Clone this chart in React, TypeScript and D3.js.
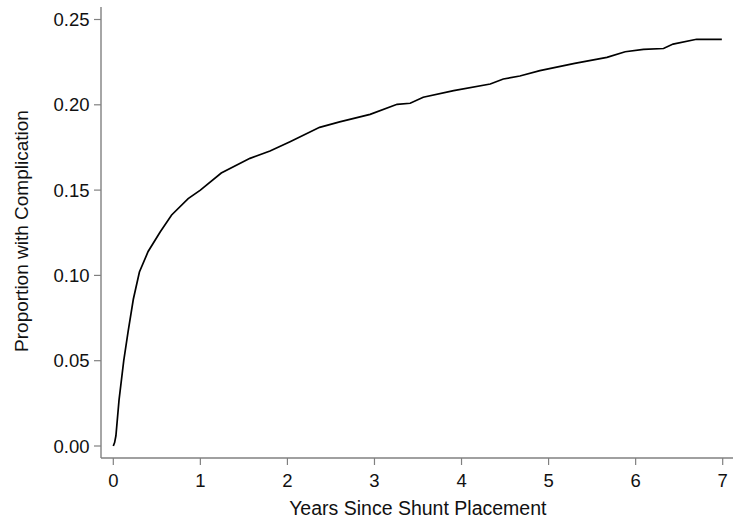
import { useEffect, useRef } from 'react'
import * as d3 from 'd3'

// Cumulative proportion with complication
const years = [0, 0.015, 0.03, 0.066, 0.12, 0.17, 0.23, 0.3, 0.4, 0.54, 0.67, 0.86, 1.0, 1.24, 1.57, 1.8, 2.03, 2.37, 2.6, 2.95, 3.26, 3.41, 3.56, 3.91, 4.33, 4.48, 4.67, 4.9, 5.3, 5.67, 5.88, 6.09, 6.32, 6.43, 6.7, 6.99]
const proportion = [0, 0.002, 0.006, 0.027, 0.05, 0.067, 0.086, 0.102, 0.114, 0.1256, 0.1354, 0.145, 0.150, 0.160, 0.1686, 0.1729, 0.1784, 0.1868, 0.190, 0.1944, 0.2003, 0.2009, 0.2044, 0.2083, 0.2122, 0.2151, 0.2169, 0.220, 0.2243, 0.2278, 0.2311, 0.2325, 0.233, 0.2356, 0.2384, 0.2384]

const xTicks = [0, 1, 2, 3, 4, 5, 6, 7]
const yTicks = [0, 0.05, 0.1, 0.15, 0.2, 0.25]

export default function App() {
  const svgRef = useRef<SVGSVGElement>(null)

  useEffect(() => {
    const width = 734, height = 520
    const left = 101, right = 733, top = 7, bottom = 458
    const svg = d3.select(svgRef.current)
    svg.selectAll('*').remove()
    svg.attr('width', width).attr('height', height).style('background', 'white')

    const font = 'Arial, "Liberation Sans", sans-serif'
    const axisColor = '#808080'

    const x = d3.scaleLinear().domain([0, 7]).range([113.3, 722.7])
    const y = d3.scaleLinear().domain([0, 0.25]).range([446, 19.5])

    // axes lines
    svg.append('line')
      .attr('x1', left).attr('x2', left).attr('y1', top).attr('y2', bottom)
      .attr('stroke', axisColor).attr('stroke-width', 1.4)
    svg.append('line')
      .attr('x1', left).attr('x2', right).attr('y1', bottom).attr('y2', bottom)
      .attr('stroke', axisColor).attr('stroke-width', 1.4)

    // y ticks
    yTicks.forEach(t => {
      svg.append('line')
        .attr('x1', left - 7).attr('x2', left).attr('y1', y(t)).attr('y2', y(t))
        .attr('stroke', axisColor).attr('stroke-width', 1.2)
      svg.append('text')
        .text(d3.format('.2f')(t))
        .attr('x', 89.5).attr('y', y(t)).attr('dy', '0.36em')
        .attr('text-anchor', 'end')
        .attr('font-family', font).attr('font-size', 18.5).attr('fill', '#111')
    })

    // x ticks
    xTicks.forEach(t => {
      svg.append('line')
        .attr('x1', x(t)).attr('x2', x(t)).attr('y1', bottom).attr('y2', bottom + 7)
        .attr('stroke', axisColor).attr('stroke-width', 1.2)
      svg.append('text')
        .text(t)
        .attr('x', x(t)).attr('y', 486.7)
        .attr('text-anchor', 'middle')
        .attr('font-family', font).attr('font-size', 18.5).attr('fill', '#111')
    })

    // titles
    svg.append('text')
      .text('Years Since Shunt Placement')
      .attr('x', 417.8).attr('y', 515)
      .attr('text-anchor', 'middle')
      .attr('font-family', font).attr('font-size', 19.5).attr('fill', '#111')
    svg.append('text')
      .text('Proportion with Complication')
      .attr('transform', 'translate(28, 231) rotate(-90)')
      .attr('text-anchor', 'middle')
      .attr('font-family', font).attr('font-size', 19).attr('fill', '#111')

    // curve
    const pts = years.map((t, i) => [t, proportion[i]] as [number, number])
    const line = d3.line<[number, number]>()
      .x(d => x(d[0]))
      .y(d => y(d[1]))
      .curve(d3.curveLinear)
    svg.append('path')
      .datum(pts)
      .attr('d', line)
      .attr('fill', 'none')
      .attr('stroke', '#000')
      .attr('stroke-width', 1.7)
  }, [])

  return (
    <div style={{ position: 'fixed', top: 0, left: 0 }}>
      <svg ref={svgRef} style={{ display: 'block' }} />
    </div>
  )
}
